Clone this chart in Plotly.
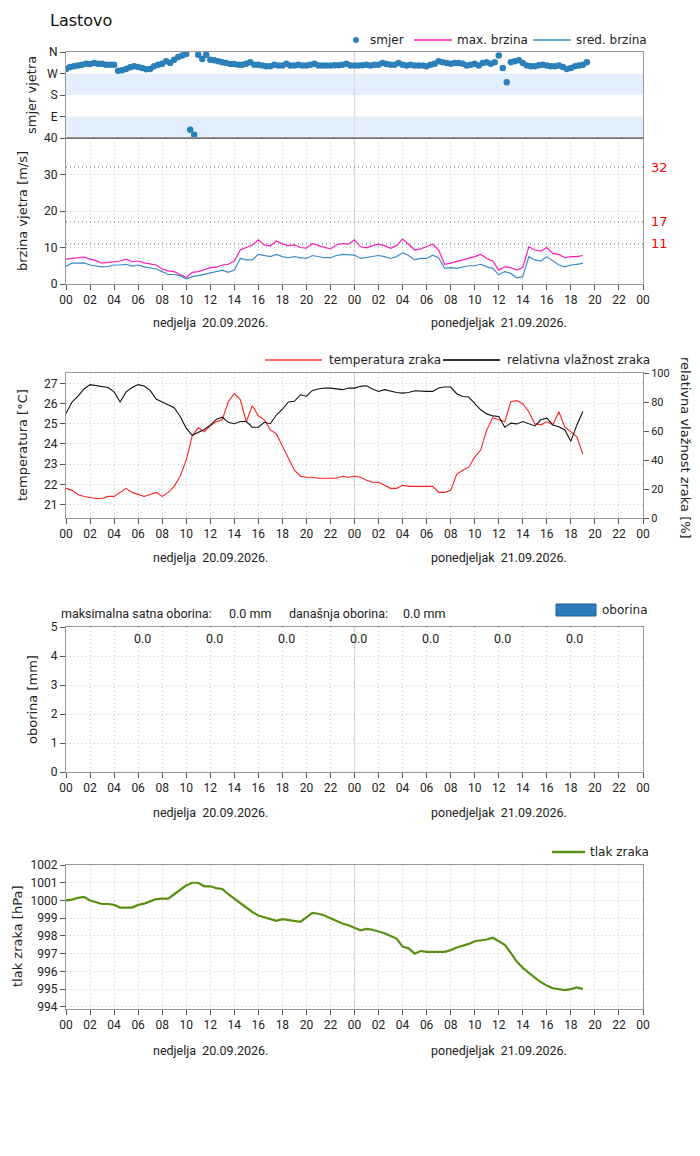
import plotly.graph_objects as go
import pandas as pd

# ---------------- data ----------------
station = "Lastovo"
start = pd.Timestamp("2026-09-20 00:00")
end = pd.Timestamp("2026-09-22 00:00")
day_break = pd.Timestamp("2026-09-21 00:00")
day_centers = [pd.Timestamp("2026-09-20 12:00"), pd.Timestamp("2026-09-21 12:00")]
day_labels = ["nedjelja  20.09.2026.", "ponedjeljak  21.09.2026."]

# wind direction (deg), every 20 minutes from 00:00
dir_times = pd.date_range(start, periods=131, freq="20min")
wind_dir = [
    289, 297, 300, 303, 307, 311, 310, 314, 311, 311, 307, 307,
    307, 282, 284, 289, 296, 300, 297, 293, 288, 289, 300, 307,
    311, 321, 314, 328, 339, 345, 352, 35, 14, 349, 331, 349,
    328, 325, 321, 317, 314, 310, 310, 307, 307, 311, 317, 307,
    307, 303, 300, 300, 307, 303, 303, 311, 303, 303, 307, 303,
    303, 307, 311, 303, 303, 303, 303, 305, 305, 307, 311, 303,
    303, 303, 305, 307, 303, 307, 307, 314, 310, 307, 307, 314,
    307, 303, 307, 303, 303, 303, 300, 307, 311, 321, 317, 314,
    311, 314, 314, 311, 303, 307, 311, 303, 314, 317, 311, 317,
    345, 293, 233, 317, 321, 325, 314, 303, 300, 300, 305, 307,
    303, 300, 300, 303, 297, 289, 293, 300, 303, 307, 317,
]

# half-hourly series from 00:00
times = pd.date_range(start, periods=87, freq="30min")
wind_max = [
    6.8, 7.0, 7.1, 7.4, 6.8, 6.4, 5.7, 5.8, 6.1, 6.3, 6.8, 6.1,
    6.3, 5.8, 5.6, 5.2, 4.1, 3.6, 3.4, 2.6, 1.8, 3.2, 3.4, 3.9,
    4.5, 4.6, 5.2, 5.4, 6.3, 9.3, 10.0, 10.7, 12.1, 10.7, 10.4, 11.8,
    11.0, 10.5, 10.7, 10.0, 9.8, 11.1, 10.5, 10.0, 9.6, 10.7, 11.1, 10.9,
    12.1, 10.2, 9.9, 10.5, 10.9, 10.5, 9.8, 10.5, 12.3, 10.9, 9.3, 9.6,
    10.2, 10.9, 9.3, 5.4, 5.7, 6.1, 6.6, 7.0, 7.5, 8.1, 7.0, 6.3,
    3.8, 4.7, 4.5, 3.8, 4.5, 10.2, 9.3, 9.0, 10.0, 8.4, 8.1, 7.2,
    7.5, 7.5, 7.8,
]
wind_mean = [
    4.9, 5.7, 5.7, 5.8, 5.2, 5.0, 4.7, 4.8, 5.2, 5.2, 5.4, 4.9,
    5.2, 4.7, 4.3, 4.1, 3.4, 2.6, 2.6, 2.3, 1.4, 2.0, 2.3, 2.6,
    2.9, 3.4, 3.8, 3.2, 3.8, 7.0, 6.6, 6.6, 8.1, 7.8, 7.5, 8.1,
    7.5, 7.2, 7.5, 7.2, 7.0, 7.8, 7.4, 7.2, 7.2, 7.8, 8.1, 7.9,
    7.9, 7.0, 7.2, 7.5, 7.8, 7.5, 7.0, 7.5, 8.6, 7.8, 6.6, 7.0,
    7.0, 7.9, 7.2, 4.3, 4.5, 4.3, 4.7, 5.0, 5.0, 5.4, 4.7, 4.3,
    2.5, 3.4, 2.9, 1.7, 2.0, 7.5, 6.6, 6.3, 7.5, 6.3, 5.2, 4.7,
    5.2, 5.4, 5.7,
]
temperature = [
    21.8, 21.7, 21.5, 21.4, 21.35, 21.3, 21.3, 21.4, 21.4, 21.6, 21.8, 21.6,
    21.5, 21.4, 21.5, 21.6, 21.4, 21.6, 21.9, 22.4, 23.2, 24.4, 24.8, 24.6,
    24.9, 25.1, 25.2, 26.1, 26.5, 26.2, 25.1, 25.9, 25.4, 25.2, 24.7, 24.5,
    23.9, 23.3, 22.7, 22.4, 22.35, 22.35, 22.3, 22.3, 22.3, 22.3, 22.4, 22.35,
    22.4, 22.35, 22.2, 22.1, 22.1, 21.95, 21.8, 21.8, 21.95, 21.9, 21.9, 21.9,
    21.9, 21.9, 21.6, 21.6, 21.7, 22.5, 22.7, 22.85, 23.35, 23.7, 24.7, 25.3,
    25.2, 25.1, 26.1, 26.15, 26.0, 25.6, 25.0, 24.95, 25.1, 24.95, 25.6, 24.85,
    24.6, 24.35, 23.5,
]
humidity = [
    72, 80, 84, 89, 92, 91.5, 91, 90, 87, 80, 87, 90,
    92, 91, 88, 82, 80, 78, 76, 70, 62, 57, 59, 61,
    64, 68, 69.5, 66, 65, 66.5, 66.5, 62.6, 62.6, 66, 65, 71,
    75, 80, 80.5, 85, 84, 88, 89, 89.6, 89.6, 89, 88.5, 89.6,
    89.6, 90.8, 91.2, 89, 87.3, 88.5, 87.3, 86.6, 86.1, 86.6, 87.8, 87.3,
    87.3, 87.3, 89.6, 90.3, 90.3, 85.7, 83.8, 83.4, 79.2, 74.6, 71.8, 70.4,
    70, 62.6, 65.4, 64.9, 66.5, 64.9, 63.5, 67.7, 68.8, 64.2, 63, 60.7,
    53, 64.2, 73.4,
]
pressure = [
    1000.0, 1000.05, 1000.15, 1000.2, 1000.0, 999.9, 999.8, 999.8, 999.75, 999.6, 999.6, 999.6,
    999.75, 999.82, 999.95, 1000.08, 1000.1, 1000.1, 1000.35, 1000.6, 1000.85, 1001.0, 1001.0, 1000.8,
    1000.8, 1000.7, 1000.65, 1000.35, 1000.1, 999.85, 999.55, 999.35, 999.15, 999.05, 998.95, 998.85,
    998.95, 998.9, 998.85, 998.8, 999.05, 999.3, 999.25, 999.15, 999.0, 998.85, 998.7, 998.6,
    998.45, 998.32, 998.4, 998.35, 998.25, 998.15, 998.0, 997.85, 997.4, 997.3, 997.0, 997.15,
    997.1, 997.1, 997.13, 997.1, 997.2, 997.35, 997.45, 997.55, 997.7, 997.75, 997.8, 997.9,
    997.72, 997.5, 997.05, 996.55, 996.2, 995.9, 995.65, 995.4, 995.2, 995.05, 995.0, 994.95,
    995.0, 995.1, 995.0,
]
# 6-hour precipitation sums
rain_times = pd.date_range("2026-09-20 06:00", periods=7, freq="6h")
rain_6h = [0.0, 0.0, 0.0, 0.0, 0.0, 0.0, 0.0]
rain_max_hourly = 0.0
rain_today = 0.0

wind_thresholds = [11, 17, 32]
dir_ticks = [90, 180, 270, 360]
dir_labels = ["E", "S", "W", "N"]

# ---------------- layout helpers ----------------
W, H = 700, 1156
OFF = 8  # page body margin offset


def fx(px):
    return (px - OFF) / W


def fy(py):
    return 1 - (py - OFF) / H


FONT = "DejaVu Sans, sans-serif"
NARROW = "Roboto, DejaVu Sans, sans-serif"
GRID_DASH = "1px,3px"
GRID_COLOR = "#c8c8c8"

C_DIR = "#2b80b9"
C_MAX = "#ff1ab8"
C_MEAN = "#3a8cc8"
C_TEMP = "#ff2020"
C_HUM = "#111111"
C_PRES = "#5a8f14"
C_RAIN = "#2b7bba"

X0, X1 = fx(66), fx(643)

panels = {
    "dir": (52, 138),
    "speed": (138, 284),
    "temp": (373, 518),
    "rain": (627, 772),
    "pres": (865, 1009),
}


def dom(name):
    top, bot = panels[name]
    return [fy(bot), fy(top)]


fig = go.Figure()

fig.add_trace(go.Scatter(x=dir_times, y=wind_dir, mode="markers", name="smjer",
                         marker=dict(color=C_DIR, size=6.5), xaxis="x", yaxis="y"))
fig.add_trace(go.Scatter(x=times, y=wind_max, mode="lines", name="max. brzina",
                         line=dict(color=C_MAX, width=1.2), xaxis="x2", yaxis="y2"))
fig.add_trace(go.Scatter(x=times, y=wind_mean, mode="lines", name="sred. brzina",
                         line=dict(color=C_MEAN, width=1.2), xaxis="x2", yaxis="y2"))
fig.add_trace(go.Scatter(x=times, y=temperature, mode="lines", name="temperatura zraka",
                         line=dict(color=C_TEMP, width=1.1), xaxis="x3", yaxis="y3"))
fig.add_trace(go.Scatter(x=times, y=humidity, mode="lines", name="relativna vlažnost zraka",
                         line=dict(color=C_HUM, width=1.1), xaxis="x3", yaxis="y4"))
fig.add_trace(go.Bar(x=rain_times, y=rain_6h, name="oborina", marker_color=C_RAIN,
                     xaxis="x4", yaxis="y5"))
fig.add_trace(go.Scatter(x=times, y=pressure, mode="lines", name="tlak zraka",
                         line=dict(color=C_PRES, width=2.2), xaxis="x5", yaxis="y6"))

tickfont = dict(family=NARROW, size=12, color="#222")


def xaxis(anchor, labels=True, grid=True):
    return dict(type="date", range=[start, end], domain=[X0, X1], anchor=anchor,
                tick0=start, dtick=2 * 3600 * 1000, tickformat="%H",
                ticks="outside" if labels else "", ticklen=5, tickcolor="#555",
                showticklabels=labels, tickfont=tickfont, automargin=False,
                showline=True, linecolor="#999", mirror=True, linewidth=1,
                showgrid=grid, gridcolor=GRID_COLOR, griddash=GRID_DASH, gridwidth=1,
                zeroline=False, fixedrange=True)


def yaxis(name, anchor, rng, grid=True, **kw):
    d = dict(domain=dom(name), anchor=anchor, range=rng, ticks="outside", ticklen=5,
             tickcolor="#555", tickfont=tickfont, showline=True, linecolor="#999",
             mirror=True, linewidth=1, showgrid=grid, gridcolor=GRID_COLOR,
             griddash=GRID_DASH, gridwidth=1, zeroline=False, fixedrange=True,
             automargin=False)
    d.update(kw)
    return d


fig.update_layout(
    width=W, height=H, margin=dict(l=0, r=0, t=0, b=0, autoexpand=False),
    paper_bgcolor="white", plot_bgcolor="white",
    font=dict(family=FONT, size=12, color="#222"),
    showlegend=False,
    xaxis=xaxis("y", labels=False, grid=False),
    yaxis=yaxis("dir", "x", [0, 360], grid=False, tickvals=dir_ticks, ticktext=dir_labels),
    xaxis2=xaxis("y2"),
    yaxis2=yaxis("speed", "x2", [0, 40], tickvals=[0, 10, 20, 30, 40]),
    xaxis3=xaxis("y3"),
    yaxis3=yaxis("temp", "x3", [20.33, 27.52], tickvals=[21, 22, 23, 24, 25, 26, 27]),
    yaxis4=dict(domain=dom("temp"), anchor="x3", overlaying="y3", side="right",
                range=[0, 100], tickvals=[0, 20, 40, 60, 80, 100], ticks="outside",
                ticklen=5, tickcolor="#555", tickfont=dict(family=NARROW, size=11, color="#222"),
                showline=True, linecolor="#999", showgrid=False, zeroline=False,
                fixedrange=True, automargin=False),
    xaxis4=xaxis("y5"),
    yaxis5=yaxis("rain", "x4", [0, 5], tickvals=[0, 1, 2, 3, 4, 5]),
    xaxis5=xaxis("y6"),
    yaxis6=yaxis("pres", "x5", [993.88, 1002.0],
                 tickvals=[994, 995, 996, 997, 998, 999, 1000, 1001, 1002]),
    bargap=0.3,
)

shapes = []
annotations = []


def text(px, py, txt, size=12, family=FONT, color="#222", anchor="left", angle=0, **kw):
    d = dict(x=fx(px), y=fy(py), xref="paper", yref="paper", text=txt, showarrow=False,
             xanchor=anchor, yanchor="middle", textangle=angle,
             font=dict(family=family, size=size, color=color))
    d.update(kw)
    annotations.append(d)


def hline_px(x0, x1, py, color, width):
    shapes.append(dict(type="line", xref="paper", yref="paper", x0=fx(x0), x1=fx(x1),
                       y0=fy(py), y1=fy(py), line=dict(color=color, width=width)))


# direction bands
for lo, hi in [(180, 270), (0, 90)]:
    shapes.append(dict(type="rect", xref="x domain", x0=0, x1=1, yref="y", y0=lo, y1=hi,
                       fillcolor="#e3effc", line_width=0, layer="below"))

# day boundary lines
for xr, top, bot in [("x2", 52, 284), ("x3", 373, 518), ("x4", 627, 772), ("x5", 865, 1009)]:
    shapes.append(dict(type="line", xref=xr, x0=day_break, x1=day_break, yref="paper",
                       y0=fy(bot), y1=fy(top), line=dict(color="#dcdcdc", width=1.5),
                       layer="below"))

# separator between direction and speed panels
shapes.append(dict(type="line", xref="x2 domain", x0=0, x1=1, yref="y2", y0=40, y1=40,
                   line=dict(color="#444", width=1.2)))

# wind thresholds
for t in wind_thresholds:
    shapes.append(dict(type="line", xref="x2 domain", x0=0, x1=1, yref="y2", y0=t, y1=t,
                       line=dict(color="#8a8a8a", width=1.3, dash=GRID_DASH)))
    annotations.append(dict(x=fx(649), xref="paper", xanchor="left", y=t, yref="y2",
                            yanchor="middle", text=str(t), showarrow=False,
                            font=dict(family=FONT, size=13, color="#ff0000")))

# title
text(48, 20, station, size=16, color="#111")

# axis titles
for txt, px, py, ang in [("smjer vjetra", 32, 95, -90),
                         ("brzina vjetra [m/s]", 23, 211, -90),
                         ("temperatura [°C]", 23, 445, -90),
                         ("relativna vlažnost zraka [%]", 686, 448, 90),
                         ("oborina [mm]", 32, 700, -90),
                         ("tlak zraka [hPa]", 17, 937, -90)]:
    text(px, py, txt, size=13, anchor="center", angle=ang)

# date labels under each panel
for py, xr in [(322, "x2"), (557, "x3"), (812, "x4"), (1050, "x5")]:
    for c, lab in zip(day_centers, day_labels):
        annotations.append(dict(x=c, xref=xr, y=fy(py), yref="paper",
                                text=lab.replace("  ", "\u00a0\u00a0"),
                                showarrow=False, xanchor="center", yanchor="middle",
                                font=dict(family=NARROW, size=12.5, color="#222")))

# ---- legends (drawn) ----
shapes.append(dict(type="circle", xref="paper", yref="paper", x0=fx(353), x1=fx(359),
                   y0=fy(43), y1=fy(37), fillcolor=C_DIR, line=dict(color=C_DIR, width=0)))
text(368, 40, "smjer")
hline_px(414, 452, 40, C_MAX, 1.5)
text(455, 40, "max. brzina")
hline_px(533, 571, 40, C_MEAN, 1.5)
text(574, 40, "sred. brzina")
hline_px(265, 322, 360, "#ff6a6a", 2)
text(327, 360, "temperatura zraka")
hline_px(443, 500, 360, "#333333", 2)
text(505, 360, "relativna vlažnost zraka")
shapes.append(dict(type="rect", xref="paper", yref="paper", x0=fx(556), x1=fx(596),
                   y0=fy(616), y1=fy(604), fillcolor=C_RAIN, line=dict(color="#1f5f8f", width=1)))
text(600, 610, "oborina")
hline_px(552, 585, 852, C_PRES, 2.5)
text(588, 852, "tlak zraka")

# rain header text and sums
text(59, 613, "maksimalna satna oborina:", family=NARROW, size=12.5)
text(227, 613, f"{rain_max_hourly:.1f} mm", family=NARROW, size=12.5)
text(287, 613, "današnja oborina:", family=NARROW, size=12.5)
text(401, 613, f"{rain_today:.1f} mm", family=NARROW, size=12.5)
for t, v in zip(rain_times, rain_6h):
    annotations.append(dict(x=t, xref="x4", y=fy(638), yref="paper", text=f"{v:.1f}",
                            showarrow=False, xanchor="center", yanchor="middle", xshift=4,
                            font=dict(family=NARROW, size=12.5, color="#222")))

fig.update_layout(shapes=shapes, annotations=annotations)

fig.write_html("out.html")
